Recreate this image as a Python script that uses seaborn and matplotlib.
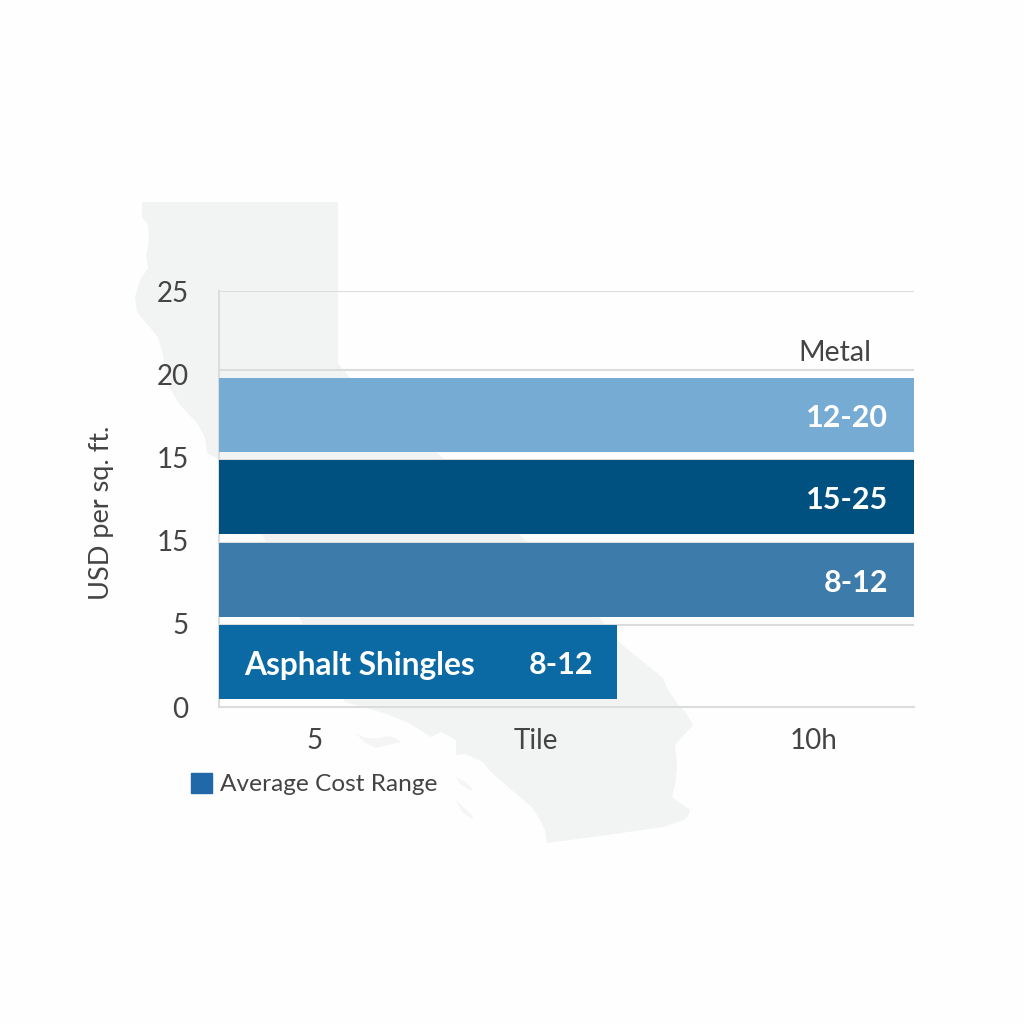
import numpy as np
import pandas as pd
import seaborn as sns
import matplotlib.pyplot as plt
from matplotlib.patches import Patch

materials = ['Asphalt Shingles', 'Mid Tier', 'Upper Tier', 'Metal']
bar_mid = [2.7, 7.63, 12.6, 17.55]
bar_extent = [57.3, 100, 100, 100]
range_labels = ['8-12', '8-12', '15-25', '12-20']
bar_colors = ['#0b69a3', '#3d7bab', '#00517f', '#76abd3']
y_ticks = [0, 5, 10, 15, 20, 25]
y_tick_labels = ['0', '5', '15', '15', '20', '25']
x_ticks = [13.8, 45.6, 85.6]
x_tick_labels = ['5', 'Tile', '10h']
grid_levels = [4.93, 9.86, 14.84, 20.25, 25]

# state silhouette behind the chart, in image pixels
map_x = [142, 338, 338, 350, 440, 525, 599, 620, 663, 668, 677, 685, 693, 684, 675, 676, 677, 675, 672,
         680, 690, 688, 684, 663, 600, 547, 545, 540, 532, 515, 491, 483, 474, 465, 456, 456, 441, 431,
         409, 384, 345, 299, 265, 220, 207, 205, 197, 180, 167, 163, 158, 148, 137, 135, 140, 148, 146,
         149, 148, 142, 142]
map_y = [202, 202, 363, 378, 455, 540, 617, 643, 678, 690, 703, 712, 725, 735, 745, 755, 767, 785, 797,
         803, 810, 816, 820, 827, 836, 843, 830, 820, 807, 793, 772, 762, 758, 754, 755, 740, 732, 737,
         723, 713, 702, 617, 540, 460, 453, 438, 423, 405, 383, 355, 337, 325, 312, 297, 280, 268, 256,
         240, 225, 217, 202]
islands = [
    ([356, 365, 378, 390, 402, 392, 376, 364], [733, 738, 738, 736, 742, 744, 748, 742]),
    ([456, 464, 473, 470, 460], [777, 781, 789, 790, 784]),
    ([456, 462, 473, 472, 462], [800, 806, 816, 819, 812]),
]

sns.set_theme(style='white')
plt.rcParams['font.family'] = ['Lato', 'DejaVu Sans']
text_color = '#444444'
line_color = '#dcdcdc'
map_color = '#f2f3f3'

fig = plt.figure(figsize=(10.24, 10.24), dpi=100, facecolor='#fefefe')

bg = fig.add_axes([0, 0, 1, 1], zorder=0)
bg.fill(map_x, map_y, color=map_color, lw=0)
for ix, iy in islands:
    bg.fill(ix, iy, color='#f5f5f5', lw=0)
bg.set_xlim(0, 1024)
bg.set_ylim(1024, 0)
bg.axis('off')

ax = fig.add_axes([219 / 1024, 317 / 1024, 695 / 1024, 416 / 1024], zorder=1)
ax.patch.set_alpha(0)

df = pd.DataFrame({'material': materials, 'mid': bar_mid, 'extent': bar_extent})
sns.barplot(data=df, x='extent', y='mid', hue='material', palette=bar_colors, orient='y',
            native_scale=True, width=0.9, dodge=False, saturation=1, legend=False, ax=ax,
            zorder=3, linewidth=0)

ax.hlines(grid_levels, 0, 100, color=line_color, lw=1.5, zorder=1)
ax.set_xlim(0, 100)
ax.set_ylim(0, 25)

for s in ['top', 'right']:
    ax.spines[s].set_visible(False)
for s in ['left', 'bottom']:
    ax.spines[s].set_color(line_color)
    ax.spines[s].set_linewidth(1.5)

ax.set_yticks(y_ticks, y_tick_labels)
ax.set_xticks(x_ticks, x_tick_labels)
ax.tick_params(axis='both', length=0, labelsize=20, labelcolor=text_color)
ax.tick_params(axis='y', pad=22)
ax.tick_params(axis='x', pad=15)
ax.set_xlabel('')
ax.set_ylabel('USD per sq. ft.', fontsize=19.5, color=text_color)
ax.yaxis.set_label_coords(-0.151, 0.466)

for mid, extent, lab in zip(bar_mid, bar_extent, range_labels):
    pad = -24 if extent < 100 else -26
    ax.annotate(lab, (extent, mid), xytext=(pad, -3), textcoords='offset pixels', ha='right',
                va='center', color='white', fontsize=22, fontweight='bold', zorder=5)
ax.annotate(materials[0], (0, bar_mid[0]), xytext=(25, -3), textcoords='offset pixels', ha='left',
            va='center', color='white', fontsize=22.8, fontweight='bold', zorder=5)
ax.annotate(materials[3], (100, 20.25), xytext=(-43, 17), textcoords='offset pixels', ha='right',
            va='center', color=text_color, fontsize=20.6, zorder=5)

ax.legend(handles=[Patch(color='#2068a8', label='Average Cost Range')], loc='upper left',
          bbox_to_anchor=(-0.04, -0.159), frameon=False, fontsize=17.6, labelcolor=text_color,
          handlelength=0.86, handleheight=0.86, handletextpad=0.33, borderpad=0, borderaxespad=0)

fig.savefig('out.png', dpi=100, facecolor=fig.get_facecolor())
